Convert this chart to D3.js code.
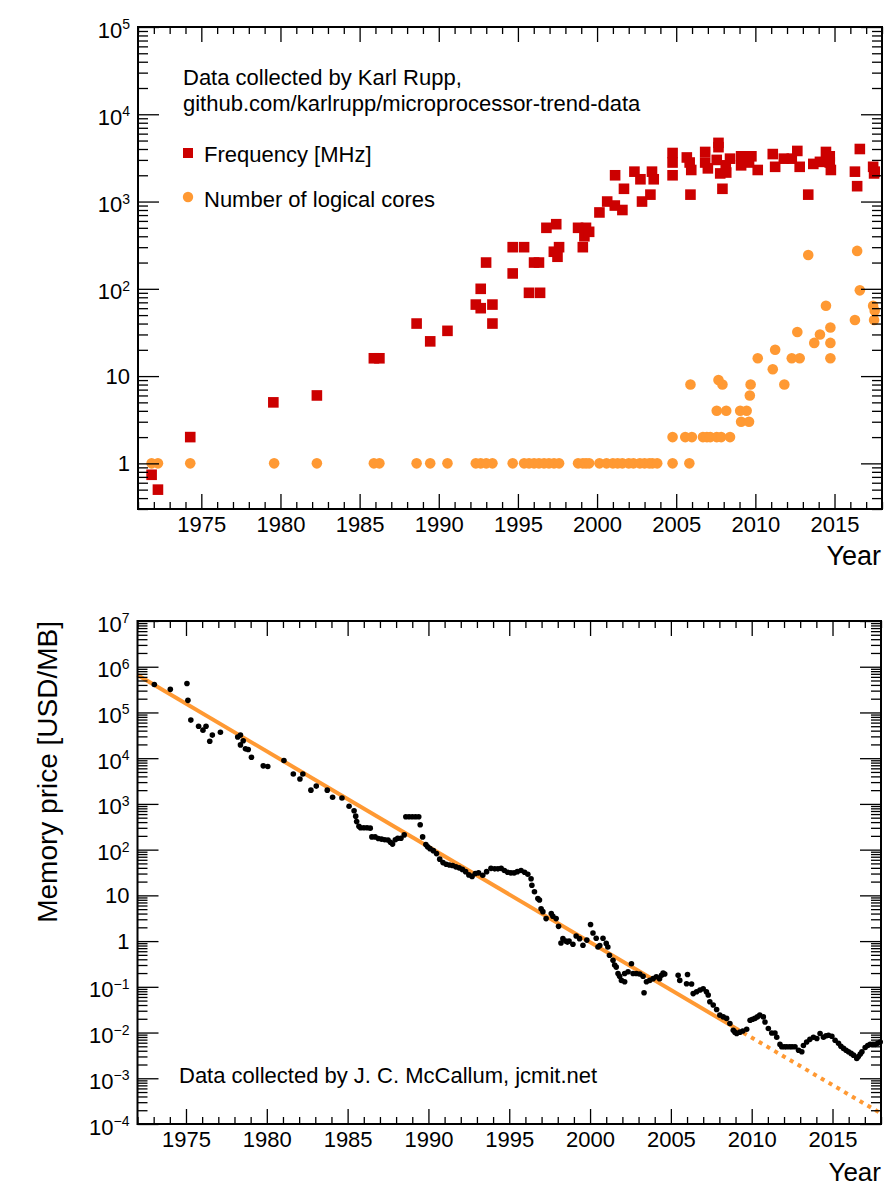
<!DOCTYPE html>
<html>
<head>
<meta charset="utf-8">
<script src="https://cdn.jsdelivr.net/npm/d3@7"></script>
<style>
body{margin:0;background:#fff;}
svg{display:block;font-family:"Liberation Sans",Arial,Helvetica,sans-serif;}
</style>
</head>
<body>
<div id="chart"></div>
<script>
//-DATA--------------------------------------------------------------------//
// [year, clock frequency in MHz]
var freqData = [
    [1971.86, 0.74], [1972.26, 0.5], [1974.3, 2], [1979.55, 5], [1982.3, 6],
    [1985.9, 16], [1986.25, 16], [1988.6, 40], [1989.46, 25], [1990.55, 33],
    [1992.34, 66], [1992.65, 100], [1992.65, 60], [1992.99, 200], [1993.39, 66], [1993.39, 40],
    [1994.67, 300], [1994.67, 150], [1995.39, 300], [1995.7, 90], [1996.02, 200], [1996.33, 200],
    [1996.4, 90], [1996.8, 500], [1997.42, 550], [1997.27, 266], [1997.6, 300], [1997.5, 233],
    [1998.8, 500], [1999.1, 300], [1999.2, 400], [1999.3, 500], [1999.5, 450],
    [2000.15, 750], [2000.64, 1000], [2001.12, 900], [2001.6, 800], [2001.14, 2000], [2001.7, 1400],
    [2002.36, 2200], [2002.74, 1800], [2002.84, 1000], [2003.37, 1200], [2003.47, 2200], [2003.58, 1800],
    [2004.77, 3600], [2004.77, 2800], [2004.77, 2000],
    [2005.67, 3200], [2005.85, 2800], [2005.95, 2300], [2005.9, 1200],
    [2006.83, 3700], [2006.83, 2800], [2007.0, 2400], [2007.56, 3000], [2007.67, 4700], [2007.67, 4200],
    [2007.78, 2100], [2007.92, 1400], [2008.16, 2150], [2008.13, 2600], [2008.4, 3100],
    [2009.1, 3300], [2009.45, 3300], [2009.1, 2600], [2009.6, 2800], [2009.75, 3300],
    [2010.15, 2300], [2011.1, 3500], [2011.25, 2500], [2011.8, 3100], [2012.3, 3100],
    [2012.65, 3800], [2012.8, 2500], [2013.34, 1200], [2013.66, 2700], [2014.08, 2850],
    [2014.46, 3700], [2014.7, 3300], [2014.7, 2800], [2014.77, 2300],
    [2016.29, 2200], [2016.43, 1500], [2016.6, 4000], [2017.44, 2500], [2017.54, 2200], [2017.5, 2100]
];

// [year, number of logical cores]
var coreData = [
    [1971.86, 1], [1972.26, 1], [1974.3, 1], [1979.6, 1], [1982.3, 1], [1985.9, 1], [1986.25, 1],
    [1988.6, 1], [1989.46, 1], [1990.55, 1], [1992.34, 1], [1992.65, 1], [1993.0, 1], [1993.39, 1],
    [1994.67, 1], [1995.39, 1], [1995.7, 1], [1996.02, 1], [1996.33, 1], [1996.65, 1], [1996.96, 1],
    [1997.28, 1], [1997.6, 1], [1998.8, 1], [1999.1, 1], [1999.3, 1], [1999.5, 1],
    [2000.15, 1], [2000.6, 1], [2001.0, 1], [2001.3, 1], [2001.6, 1], [2002.0, 1], [2002.3, 1],
    [2002.7, 1], [2003.0, 1], [2003.3, 1], [2003.5, 1], [2003.8, 1], [2004.77, 1], [2005.83, 1],
    [2004.77, 2], [2005.57, 2], [2005.99, 2], [2006.69, 2], [2006.94, 2], [2007.15, 2],
    [2007.56, 2], [2007.84, 2], [2008.4, 2],
    [2007.56, 4], [2008.16, 4], [2009.04, 4], [2009.45, 4], [2009.1, 3], [2009.6, 3],
    [2005.9, 8], [2007.92, 8], [2007.67, 9], [2009.7, 8], [2011.83, 8], [2009.65, 6],
    [2010.15, 16], [2011.1, 12], [2011.25, 20], [2012.3, 16], [2012.8, 16], [2012.65, 32],
    [2013.34, 244], [2013.72, 24], [2014.08, 30], [2014.46, 64], [2014.74, 36], [2014.74, 24],
    [2014.74, 16], [2016.29, 44], [2016.43, 272], [2016.6, 96], [2017.44, 64], [2017.54, 56], [2017.5, 44]
];

// [year, memory price in USD/MB]
var memData = [
    [1973.04, 4.1e5], [1974.03, 3.2e5], [1975.06, 4.3e5], [1975.12, 1.84e5], [1975.3, 6.8e4],
    [1975.78, 5.0e4], [1976.05, 4.1e4], [1976.24, 5.0e4], [1976.47, 2.35e4], [1976.63, 3.2e4],
    [1977.13, 3.7e4], [1978.2, 2.9e4], [1978.37, 3.2e4], [1978.54, 2.4e4], [1978.37, 1.95e4],
    [1978.68, 1.6e4], [1978.85, 1.55e4], [1979.05, 1.05e4], [1979.78, 6.8e3], [1980.06, 6.6e3],
    [1981.06, 8.9e3], [1981.64, 4.5e3], [1982.05, 3.5e3], [1982.23, 4.5e3], [1982.73, 2.0e3],
    [1983.06, 2.45e3], [1983.74, 2.0e3], [1984.07, 1.4e3], [1984.65, 1.35e3],
    [1985.09, 890], [1985.4, 710], [1985.5, 540], [1985.56, 410], [1985.7, 325],
    [1985.8, 300], [1986.0, 300], [1986.2, 300], [1986.4, 295],
    [1986.5, 190], [1986.7, 190], [1986.9, 175], [1987.1, 170], [1987.3, 165], [1987.5, 162],
    [1987.65, 145], [1987.78, 132], [1987.95, 165], [1988.1, 178], [1988.3, 178], [1988.5, 210],
    [1988.6, 525], [1988.8, 525], [1989.0, 525], [1989.2, 525], [1989.4, 525],
    [1989.49, 350], [1989.64, 190], [1989.84, 129], [1989.95, 115], [1990.1, 105], [1990.3, 95],
    [1990.5, 82], [1990.7, 62], [1990.9, 52], [1991.1, 48], [1991.3, 46], [1991.5, 45],
    [1991.7, 42], [1991.9, 40], [1992.1, 37], [1992.3, 33], [1992.5, 28], [1992.7, 26],
    [1992.9, 30], [1993.1, 31], [1993.36, 27.5], [1993.6, 33], [1993.87, 39], [1994.1, 38],
    [1994.3, 38], [1994.5, 39], [1994.7, 35], [1994.9, 32], [1995.1, 31], [1995.3, 31],
    [1995.5, 33], [1995.73, 35], [1995.95, 32], [1996.15, 29], [1996.35, 23], [1996.4, 16.6],
    [1996.56, 12], [1996.77, 8.5], [1996.87, 7.9], [1996.97, 5.1], [1997.08, 4.4], [1997.28, 3.1],
    [1997.6, 4.0], [1997.7, 3.5], [1997.9, 3.1], [1998.05, 2.1], [1998.2, 0.91], [1998.32, 1.13],
    [1998.5, 1.0], [1998.6, 0.95], [1998.7, 1.0], [1998.94, 0.85], [1999.14, 1.29], [1999.35, 1.13],
    [1999.56, 0.81], [1999.8, 1.05], [2000.03, 2.3], [2000.18, 1.5], [2000.38, 1.15], [2000.49, 0.74],
    [2000.6, 0.8], [2000.8, 1.15], [2001.0, 0.89], [2001.1, 0.74], [2001.2, 0.49], [2001.42, 0.38],
    [2001.52, 0.30], [2001.62, 0.27], [2001.73, 0.195], [2001.83, 0.17], [2001.94, 0.138],
    [2002.14, 0.129], [2002.14, 0.195], [2002.35, 0.214], [2002.56, 0.32], [2002.66, 0.195],
    [2002.87, 0.195], [2003.08, 0.19], [2003.28, 0.17], [2003.34, 0.074], [2003.49, 0.129],
    [2003.69, 0.138], [2003.9, 0.151], [2004.1, 0.166], [2004.3, 0.151], [2004.42, 0.178],
    [2004.52, 0.2], [2004.62, 0.19], [2005.45, 0.178], [2005.55, 0.138], [2006.03, 0.186],
    [2005.97, 0.117], [2006.28, 0.115], [2006.38, 0.071], [2006.59, 0.078], [2006.8, 0.085],
    [2007.0, 0.091], [2007.2, 0.078], [2007.31, 0.066], [2007.41, 0.047], [2007.62, 0.04],
    [2007.83, 0.032], [2008.03, 0.024], [2008.24, 0.022], [2008.45, 0.0204], [2008.65, 0.0158],
    [2008.86, 0.0112], [2008.96, 0.0102], [2009.07, 0.0095], [2009.27, 0.0102], [2009.45, 0.0108],
    [2009.69, 0.0118], [2009.9, 0.0186], [2010.05, 0.0195], [2010.2, 0.0204], [2010.35, 0.022],
    [2010.5, 0.024], [2010.72, 0.022], [2010.82, 0.017], [2011.03, 0.0123], [2011.24, 0.0098],
    [2011.44, 0.0098], [2011.55, 0.0079], [2011.75, 0.0055], [2011.86, 0.0049], [2012.02, 0.0049],
    [2012.17, 0.0049], [2012.35, 0.0049], [2012.5, 0.0049], [2012.68, 0.0049], [2012.9, 0.0041],
    [2013.1, 0.0038], [2013.2, 0.0052], [2013.4, 0.0062], [2013.6, 0.0071], [2013.82, 0.0079],
    [2014.03, 0.0074], [2014.23, 0.0095], [2014.44, 0.0079], [2014.6, 0.0085], [2014.75, 0.0087],
    [2014.96, 0.0083], [2015.16, 0.0068], [2015.37, 0.0058], [2015.52, 0.005], [2015.68, 0.0045],
    [2015.84, 0.0041], [2015.99, 0.0038], [2016.15, 0.0035], [2016.3, 0.0032], [2016.5, 0.0027],
    [2016.6, 0.003], [2016.72, 0.0034], [2016.82, 0.0038], [2017.02, 0.0047], [2017.18, 0.0052],
    [2017.33, 0.0055], [2017.5, 0.0055], [2017.64, 0.0055], [2017.8, 0.0058], [2017.95, 0.0062]
];

// exponential fit: fitted range and extrapolation
var fitSolid = [[1972, 6.6e5], [2009, 1.25e-2]];
var fitDotted = [[2009, 1.25e-2], [2018, 1.7e-4]];

var yearTicks = [1975, 1980, 1985, 1990, 1995, 2000, 2005, 2010, 2015];
var topValueTicks = [1, 10, 100, 1e3, 1e4, 1e5];
var botValueTicks = [1e-4, 1e-3, 1e-2, 1e-1, 1, 10, 100, 1e3, 1e4, 1e5, 1e6, 1e7];

var topNote = ["Data collected by Karl Rupp,", "github.com/karlrupp/microprocessor-trend-data"];
var legendLabels = ["Frequency [MHz]", "Number of logical cores"];
var botNote = "Data collected by J. C. McCallum, jcmit.net";

var red = "#cc0000",
    orange = "#ff9933";


//-MAIN--------------------------------------------------------------------//
var svg = d3.select("#chart").append("svg")
    .attr("width", 885)
    .attr("height", 1188)
    ;

// log minor ticks 2..9 per decade inside the domain
function logMinors(lo, hi){
    var out = [];
    for (var e = Math.floor(Math.log10(lo)); e <= Math.ceil(Math.log10(hi)); e++){
        for (var m = 2; m <= 9; m++){
            var v = m * Math.pow(10, e);
            if (v >= lo && v <= hi) out.push(v);
        }
    }
    return out;
}

function frame(g, x, y, yVals){
    var x0 = x.range()[0], x1 = x.range()[1],
        y0 = y.range()[0], y1 = y.range()[1];
    var yearMinors = d3.range(Math.ceil(x.domain()[0]), Math.floor(x.domain()[1]) + 1)
        .filter(d => yearTicks.indexOf(d) < 0);
    var vMinors = logMinors(y.domain()[0], y.domain()[1]);

    function clean(a){
        a.select(".domain").remove();
        a.attr("font-family", null).attr("font-size", 22);
        a.selectAll("line").attr("stroke-width", 1.3);
        a.selectAll("text").attr("fill", "#000");
    }

    g.append("g").attr("transform", `translate(0,${y0})`)
        .call(d3.axisBottom(x).tickValues(yearTicks).tickSize(-15).tickPadding(7).tickFormat(d3.format("d")))
        .call(clean);
    g.append("g").attr("transform", `translate(0,${y0})`)
        .call(d3.axisBottom(x).tickValues(yearMinors).tickSize(-7).tickFormat(""))
        .call(clean);
    g.append("g").attr("transform", `translate(0,${y1})`)
        .call(d3.axisTop(x).tickValues(yearTicks).tickSize(-15).tickFormat(""))
        .call(clean);
    g.append("g").attr("transform", `translate(0,${y1})`)
        .call(d3.axisTop(x).tickValues(yearMinors).tickSize(-7).tickFormat(""))
        .call(clean);

    var left = g.append("g").attr("transform", `translate(${x0},0)`)
        .call(d3.axisLeft(y).tickValues(yVals).tickSize(-21).tickFormat(""))
        .call(clean);
    g.append("g").attr("transform", `translate(${x0},0)`)
        .call(d3.axisLeft(y).tickValues(vMinors).tickSize(-10).tickFormat(""))
        .call(clean);
    g.append("g").attr("transform", `translate(${x1},0)`)
        .call(d3.axisRight(y).tickValues(yVals).tickSize(-21).tickFormat(""))
        .call(clean);
    g.append("g").attr("transform", `translate(${x1},0)`)
        .call(d3.axisRight(y).tickValues(vMinors).tickSize(-10).tickFormat(""))
        .call(clean);

    // 10^n labels with superscripts
    left.selectAll(".tick").each(function(d){
        var e = Math.round(Math.log10(d));
        var t = d3.select(this).append("text")
            .attr("x", -8)
            .attr("text-anchor", "end")
            .attr("fill", "#000")
            .attr("font-size", 22)
            ;
        if (e === 0 || e === 1){
            t.attr("y", 7.5).text(e === 0 ? "1" : "10");
        } else {
            t.attr("y", 10).text("10");
            t.append("tspan")
                .attr("font-size", 14)
                .attr("dy", -8.5)
                .text(e < 0 ? "\u2212" + (-e) : e);
        }
    });

    g.append("rect")
        .attr("x", x0).attr("y", y1)
        .attr("width", x1 - x0).attr("height", y0 - y1)
        .attr("fill", "none")
        .attr("stroke", "#000")
        .attr("stroke-width", 2)
        ;
}


//-TOP: frequency and cores-------------------------------------------------//
var xTop = d3.scaleLinear().domain([1971, 2018]).range([138, 882]);
var yTop = d3.scaleLog().domain([0.3, 1e5]).range([509, 27]);

var gTop = svg.append("g").attr("class", "top");

gTop.selectAll("rect.freq").data(freqData).enter().append("rect")
    .attr("class", "freq")
    .attr("x", d => xTop(d[0]) - 5.3)
    .attr("y", d => yTop(d[1]) - 5.3)
    .attr("width", 10.6)
    .attr("height", 10.6)
    .attr("fill", red)
    ;
gTop.selectAll("circle.core").data(coreData).enter().append("circle")
    .attr("class", "core")
    .attr("cx", d => xTop(d[0]))
    .attr("cy", d => yTop(d[1]))
    .attr("r", 5.3)
    .attr("fill", orange)
    ;

frame(gTop, xTop, yTop, topValueTicks);

gTop.selectAll("text.note").data(topNote).enter().append("text")
    .attr("class", "note")
    .attr("x", 183)
    .attr("y", (d, i) => 85 + i * 26)
    .attr("font-size", 22)
    .text(d => d)
    ;
gTop.append("rect")
    .attr("x", 183).attr("y", 148)
    .attr("width", 10).attr("height", 10)
    .attr("fill", red)
    ;
gTop.append("circle")
    .attr("cx", 188).attr("cy", 197)
    .attr("r", 5.2)
    .attr("fill", orange)
    ;
gTop.selectAll("text.leg").data(legendLabels).enter().append("text")
    .attr("class", "leg")
    .attr("x", 204)
    .attr("y", (d, i) => 162 + i * 45)
    .attr("font-size", 22)
    .text(d => d)
    ;
gTop.append("text")
    .attr("x", 881).attr("y", 565)
    .attr("text-anchor", "end")
    .attr("font-size", 27)
    .text("Year")
    ;


//-BOTTOM: memory price-----------------------------------------------------//
var xBot = d3.scaleLinear().domain([1972, 2018]).range([137.5, 881]);
var yBot = d3.scaleLog().domain([1e-4, 1e7]).range([1124, 621]);

var gBot = svg.append("g").attr("class", "bottom");

var fitLine = d3.line().x(d => xBot(d[0])).y(d => yBot(d[1]));
gBot.append("path")
    .attr("d", fitLine(fitSolid))
    .attr("fill", "none")
    .attr("stroke", orange)
    .attr("stroke-width", 4)
    ;
gBot.append("path")
    .attr("d", fitLine(fitDotted))
    .attr("fill", "none")
    .attr("stroke", orange)
    .attr("stroke-width", 4)
    .attr("stroke-dasharray", "4,5")
    ;

gBot.selectAll("circle.mem").data(memData).enter().append("circle")
    .attr("class", "mem")
    .attr("cx", d => xBot(d[0]))
    .attr("cy", d => yBot(d[1]))
    .attr("r", 2.8)
    .attr("fill", "#000")
    ;

frame(gBot, xBot, yBot, botValueTicks);

gBot.append("text")
    .attr("x", 179).attr("y", 1083)
    .attr("font-size", 22)
    .text(botNote)
    ;
gBot.append("text")
    .attr("x", 881).attr("y", 1181)
    .attr("text-anchor", "end")
    .attr("font-size", 26)
    .text("Year")
    ;
gBot.append("text")
    .attr("transform", "translate(57,621) rotate(-90)")
    .attr("text-anchor", "end")
    .attr("font-size", 28)
    .text("Memory price [USD/MB]")
    ;
</script>
</body>
</html>
